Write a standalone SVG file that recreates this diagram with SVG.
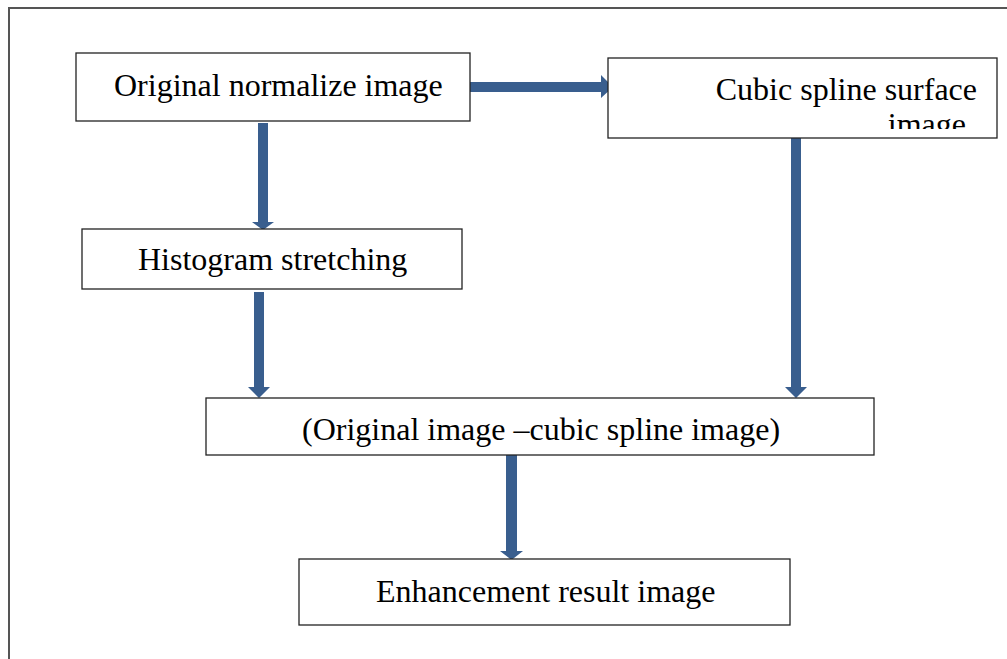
<svg xmlns="http://www.w3.org/2000/svg" width="1007" height="659" viewBox="0 0 1007 659">
<style>
.box{fill:#fff;stroke:#222;stroke-width:1.3}
.t{font-family:"Liberation Serif","Times New Roman",serif;font-size:32px;fill:#000}
.arr{fill:#395E8E}
</style>
<defs>
<clipPath id="c2"><rect x="608" y="58" width="389" height="71"/></clipPath>
</defs>
<rect width="1007" height="659" fill="#fff"/>
<path d="M9 659 V8 H1007" fill="none" stroke="#555" stroke-width="2"/>
<g id="connectors">
<polygon class="arr" points="468,82 601,82 601,75 613,87 601,98 601,92 468,92"/>
<polygon class="arr" points="258,123 268,123 268,222 274,222 263,230 252,222 258,222"/>
<polygon class="arr" points="254,292 264,292 264,387 270,387 259,398 248,387 254,387"/>
<polygon class="arr" points="791,138 801,138 801,387 807,387 796,398 785,387 791,387"/>
<polygon class="arr" points="506,453 517,453 517,551 523,551 511.5,560 500,551 506,551"/>
</g>
<g id="n1">
<rect class="box" x="76" y="53" width="394" height="68"/>
<text class="t" x="114" y="96">Original normalize image</text>
</g>
<g id="n2">
<rect class="box" x="608" y="58" width="389" height="80"/>
<g clip-path="url(#c2)">
<text class="t" x="977" y="100" text-anchor="end">Cubic spline surface</text>
<text class="t" x="966" y="135" text-anchor="end">image</text>
</g>
</g>
<g id="n3">
<rect class="box" x="82" y="229" width="380" height="60"/>
<text class="t" x="138" y="270">Histogram stretching</text>
</g>
<g id="n4">
<rect class="box" x="206" y="398" width="668" height="57"/>
<text class="t" x="302" y="440">(Original image –cubic spline image)</text>
</g>
<g id="n5">
<rect class="box" x="299" y="559" width="491" height="66"/>
<text class="t" x="376" y="602">Enhancement result image</text>
</g>
</svg>
